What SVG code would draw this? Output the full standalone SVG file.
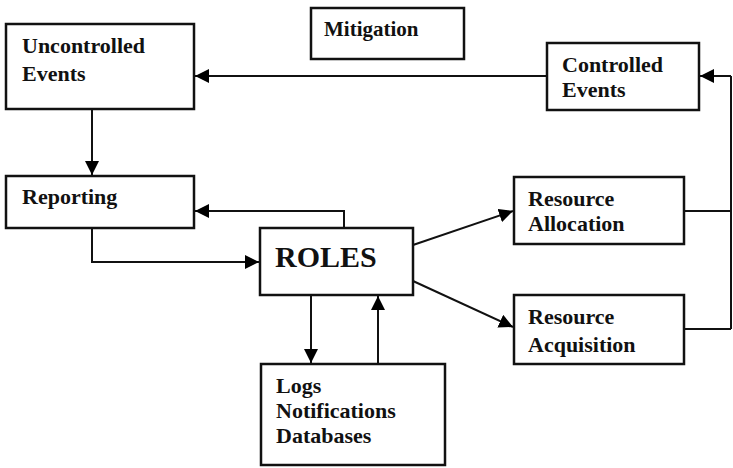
<svg xmlns="http://www.w3.org/2000/svg" width="733" height="468" viewBox="0 0 733 468">
<defs>
<marker id="ah" viewBox="0 0 10 10" refX="10" refY="5" markerWidth="7" markerHeight="7" orient="auto" markerUnits="strokeWidth">
<path d="M0,0 L10,5 L0,10 z" fill="#000"/>
</marker>
<style>
.box{fill:#fff;stroke:#111;stroke-width:2.5}
.t{font-family:"Liberation Serif","Times New Roman",serif;font-size:22px;font-weight:bold;fill:#111}
.m{font-family:"Liberation Serif","Times New Roman",serif;font-size:21px;font-weight:bold;fill:#111}
.r{font-family:"Liberation Serif","Times New Roman",serif;font-size:30px;font-weight:bold;fill:#111}
.c{fill:none;stroke:#111;stroke-width:2}
.a{marker-end:url(#ah)}
</style>
</defs>
<rect width="733" height="468" fill="#fff"/>
<g id="connectors">
<path class="c a" d="M547,76 H195"/>
<path class="c a" d="M731,76 H700"/>
<path class="c" d="M731,76 V329"/>
<path class="c" d="M684,211 H731"/>
<path class="c" d="M684,329 H731"/>
<path class="c a" d="M92,109 V175"/>
<path class="c a" d="M344,228 V211 H195"/>
<path class="c a" d="M92,228 V262 H259"/>
<path class="c a" d="M413,245 L513,211"/>
<path class="c a" d="M413,281 L513,327"/>
<path class="c a" d="M311,295 V363"/>
<path class="c a" d="M378,364 V296"/>
</g>
<g id="uncontrolled">
<rect class="box" x="6" y="24" width="188" height="85"/>
<text class="t" x="22" y="53">Uncontrolled</text>
<text class="t" x="22" y="81">Events</text>
</g>
<g id="mitigation">
<rect class="box" x="311" y="8" width="153" height="51"/>
<text class="m" x="324" y="36">Mitigation</text>
</g>
<g id="controlled">
<rect class="box" x="547" y="43" width="152" height="67"/>
<text class="t" x="562" y="72">Controlled</text>
<text class="t" x="562" y="97">Events</text>
</g>
<g id="reporting">
<rect class="box" x="6" y="176" width="188" height="52"/>
<text class="t" x="22" y="204">Reporting</text>
</g>
<g id="roles">
<rect class="box" x="260" y="228" width="153" height="67"/>
<text class="r" x="275" y="267">ROLES</text>
</g>
<g id="allocation">
<rect class="box" x="514" y="177" width="170" height="67"/>
<text class="t" x="528" y="206">Resource</text>
<text class="t" x="528" y="231">Allocation</text>
</g>
<g id="acquisition">
<rect class="box" x="514" y="295" width="170" height="69"/>
<text class="t" x="528" y="324">Resource</text>
<text class="t" x="528" y="352">Acquisition</text>
</g>
<g id="logs">
<rect class="box" x="261" y="364" width="184" height="101"/>
<text class="t" x="276" y="393">Logs</text>
<text class="t" x="276" y="418">Notifications</text>
<text class="t" x="276" y="443">Databases</text>
</g>
</svg>
